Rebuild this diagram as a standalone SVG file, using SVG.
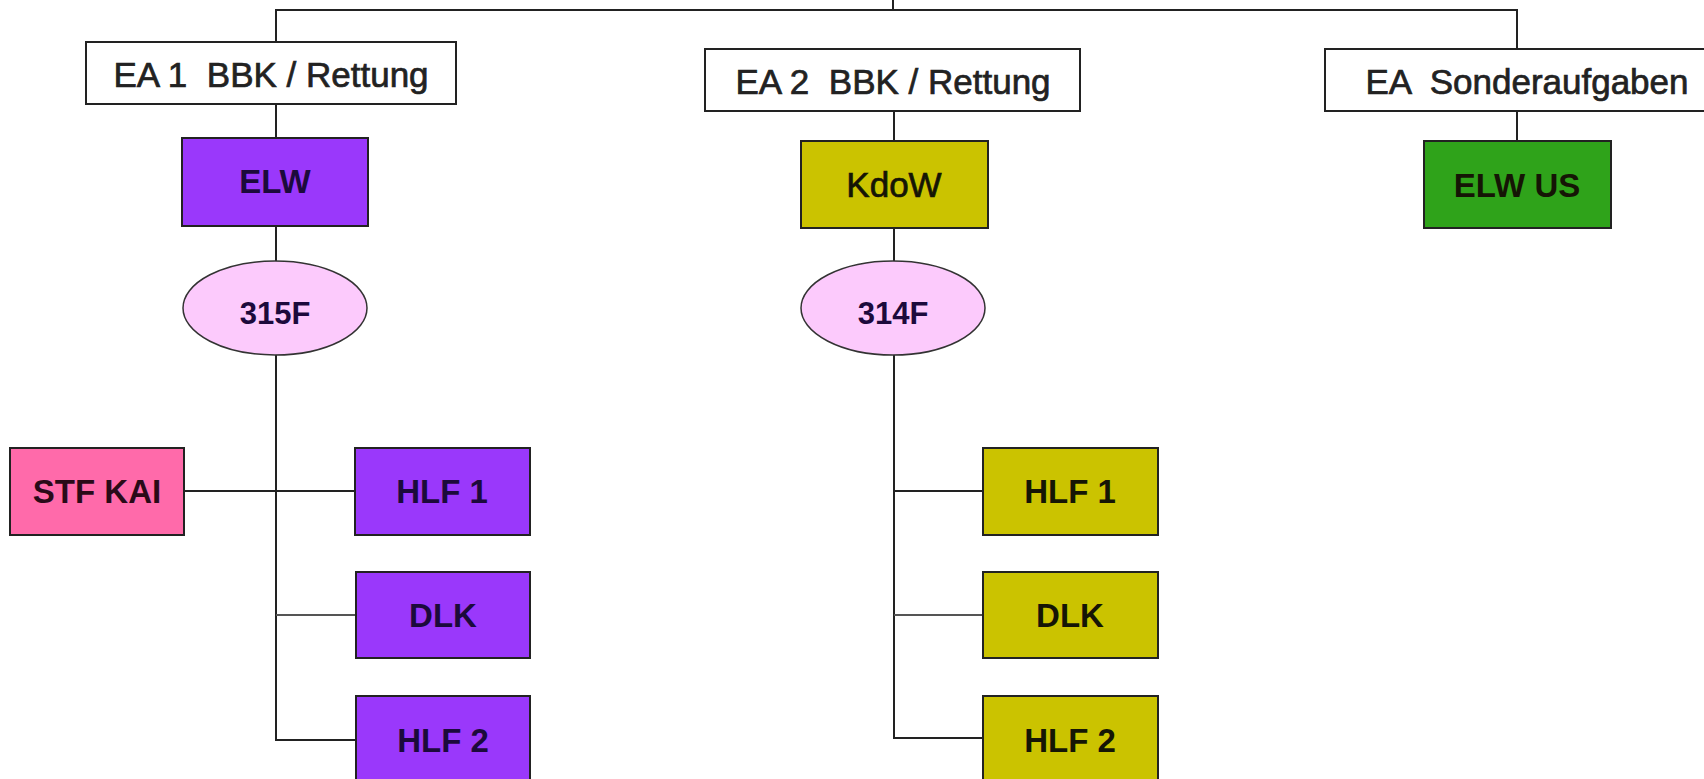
<svg xmlns="http://www.w3.org/2000/svg" width="1704" height="779" viewBox="0 0 1704 779">
<style>
.hdr{fill:#fff;stroke:#222;stroke-width:2}
.box{stroke:#222;stroke-width:2}
.pur{fill:#9a38fb}
.oli{fill:#cbc300}
.grn{fill:#2fa31a}
.pnk{fill:#ff6aaa}
.ell{fill:#fccafc;stroke:#333;stroke-width:1.5}
.ht{font-family:"Liberation Sans",Arial,sans-serif;font-size:35px;fill:#222;stroke:#222;stroke-width:0.7;text-anchor:middle;white-space:pre}
.bt{font-family:"Liberation Sans",Arial,sans-serif;font-size:33px;font-weight:bold;text-anchor:middle}
.dk{fill:#1c0a3c}
.bk{fill:#151505}
.conn line,.conn path{stroke:#222;stroke-width:2;fill:none}
</style>
<rect width="1704" height="779" fill="#fff"/>
<g class="conn" id="connectors">
<line x1="893" y1="0" x2="893" y2="10"/>
<path d="M276,42 V10 H1517 V49"/>
<line x1="276" y1="104" x2="276" y2="138"/>
<line x1="276" y1="226" x2="276" y2="261"/>
<path d="M276,355 V740 H356"/>
<line x1="184" y1="491" x2="355" y2="491"/>
<line x1="276" y1="615" x2="356" y2="615" style="stroke:#555"/>
<line x1="894" y1="111" x2="894" y2="141"/>
<line x1="894" y1="228" x2="894" y2="261"/>
<path d="M894,355 V738 H983"/>
<line x1="894" y1="491" x2="983" y2="491"/>
<line x1="894" y1="615" x2="983" y2="615" style="stroke:#555"/>
<line x1="1517" y1="111" x2="1517" y2="141"/>
</g>
<g id="ea1"><rect class="hdr" x="86" y="42" width="370" height="62"/><text class="ht" x="271" y="87" xml:space="preserve">EA 1  BBK / Rettung</text></g>
<g id="ea2"><rect class="hdr" x="705" y="49" width="375" height="62"/><text class="ht" x="893" y="94" xml:space="preserve">EA 2  BBK / Rettung</text></g>
<g id="ea3"><rect class="hdr" x="1325" y="49" width="385" height="62"/><text class="ht" x="1527" y="94" xml:space="preserve">EA  Sonderaufgaben</text></g>
<g id="elw"><rect class="box pur" x="182" y="138" width="186" height="88"/><text class="bt dk" x="275" y="193">ELW</text></g>
<g id="kdow"><rect class="box oli" x="801" y="141" width="187" height="87"/><text class="ht bk" x="894" y="197" style="stroke:#151505">KdoW</text></g>
<g id="elwus"><rect class="box grn" x="1424" y="141" width="187" height="87"/><text class="bt bk" x="1517" y="197">ELW US</text></g>
<g id="f315"><ellipse class="ell" cx="275" cy="308" rx="92" ry="47"/><text class="bt dk" x="275" y="324" style="font-size:31px">315F</text></g>
<g id="f314"><ellipse class="ell" cx="893" cy="308" rx="92" ry="47"/><text class="bt dk" x="893" y="324" style="font-size:31px">314F</text></g>
<g id="stfkai"><rect class="box pnk" x="10" y="448" width="174" height="87"/><text class="bt" x="97" y="503" fill="#2a0a18">STF KAI</text></g>
<g id="hlf1a"><rect class="box pur" x="355" y="448" width="175" height="87"/><text class="bt dk" x="442" y="503">HLF 1</text></g>
<g id="dlka"><rect class="box pur" x="356" y="572" width="174" height="86"/><text class="bt dk" x="443" y="627">DLK</text></g>
<g id="hlf2a"><rect class="box pur" x="356" y="696" width="174" height="88"/><text class="bt dk" x="443" y="752">HLF 2</text></g>
<g id="hlf1b"><rect class="box oli" x="983" y="448" width="175" height="87"/><text class="bt bk" x="1070" y="503">HLF 1</text></g>
<g id="dlkb"><rect class="box oli" x="983" y="572" width="175" height="86"/><text class="bt bk" x="1070" y="627">DLK</text></g>
<g id="hlf2b"><rect class="box oli" x="983" y="696" width="175" height="88"/><text class="bt bk" x="1070" y="752">HLF 2</text></g>
</svg>
